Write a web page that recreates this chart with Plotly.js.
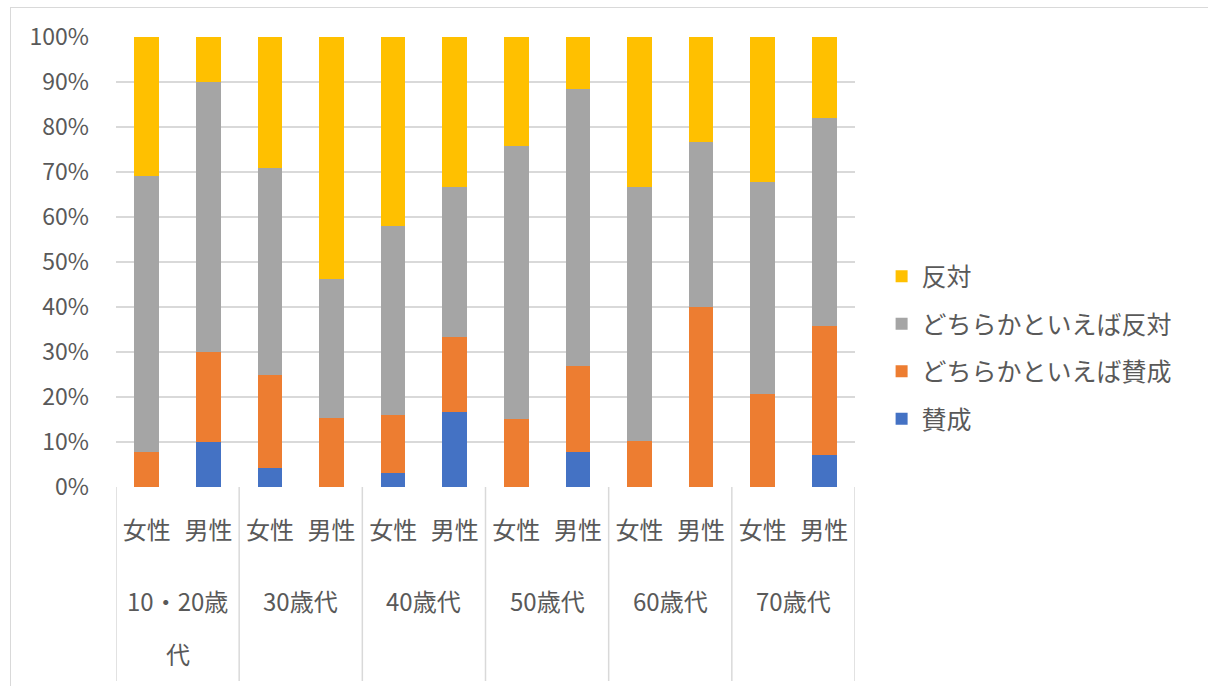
<!DOCTYPE html>
<html>
<head>
<meta charset="utf-8">
<script src="https://cdn.plot.ly/plotly-3.0.1.min.js"></script>
<style>
  html, body { margin: 0; padding: 0; background: #fff; }
  #wrap { position: relative; width: 1208px; height: 686px; overflow: hidden; }
  #chart { width: 1208px; height: 686px; }
  #frame { position: absolute; left: 10px; top: 7px; width: 1300px; height: 800px;
           border: 1px solid #d9d9d9; box-sizing: border-box; pointer-events: none; }
</style>
</head>
<body>
<div id="wrap">
  <div id="chart"></div>
  <div id="frame"></div>
</div>
<script>
// Age groups (outer category; <br> marks the wrap seen in the chart) and sex (inner category)
const ageGroups = ['10・20歳<br>代', '30歳代', '40歳代', '50歳代', '60歳代', '70歳代'];
const sexes = ['女性', '男性'];

// Series values (%), order: 10・20女, 10・20男, 30女, 30男, 40女, 40男, 50女, 50男, 60女, 60男, 70女, 70男
const sansei        = [0, 10, 4.2, 0, 3.2, 16.7, 0, 7.7, 0, 0, 0, 7.1];
const dochiraSansei = [7.7, 20, 20.8, 15.4, 12.9, 16.7, 15.2, 19.2, 10.3, 40, 20.6, 28.6];
const dochiraHantai = [61.5, 60, 45.8, 30.8, 41.9, 33.3, 60.6, 61.5, 56.4, 36.7, 47.1, 46.4];
const hantai        = [30.8, 10, 29.2, 53.8, 41.9, 33.3, 24.2, 11.5, 33.3, 23.3, 32.4, 17.9];

const seriesNames = ['賛成', 'どちらかといえば賛成', 'どちらかといえば反対', '反対'];
const seriesColors = ['#4472C4', '#ED7D31', '#A5A5A5', '#FFC000'];
const seriesData = [sansei, dochiraSansei, dochiraHantai, hantai];

// Build category positions from the arrays
const innerLabels = [];
const groupOf = [];
ageGroups.forEach((g, gi) => sexes.forEach(s => { innerLabels.push(s); groupOf.push(gi); }));
const xPos = innerLabels.map((_, i) => i);

const traces = seriesData.map((vals, i) => ({
  type: 'bar',
  name: seriesNames[i],
  x: xPos,
  y: vals,
  marker: { color: seriesColors[i] },
  legendgroup: 'g' + i,
  legendrank: seriesData.length - i,
  customdata: innerLabels.map((s, k) => ageGroups[groupOf[k]].replace('<br>', '') + ' ' + s),
  hovertemplate: '%{customdata}<br>' + seriesNames[i] + ': %{y}%<extra></extra>'
}));

const fontFam = '"Noto Sans CJK JP", "Noto Sans", sans-serif';
const txtColor = '#595959';
const lineColor = '#d9d9d9';

// Plot geometry (pixels) used to place group labels / dividers below the axis
const plotH = 450;
const groupLabelOffset = 113;   // px below axis to the centre of first line
const groupLineStep = 53;       // px between wrapped lines
const dividerDepth = 194;       // px below axis

const annotations = [];
ageGroups.forEach((g, gi) => {
  const members = xPos.filter((_, k) => groupOf[k] === gi);
  const cx = (members[0] + members[members.length - 1]) / 2;
  g.split('<br>').forEach((line, j) => {
    annotations.push({
      xref: 'x', yref: 'paper',
      x: cx, y: -groupLabelOffset / plotH,
      yshift: -groupLineStep * j,
      yanchor: 'middle', xanchor: 'center',
      text: line, showarrow: false,
      font: { size: 24, color: txtColor, family: fontFam }
    });
  });
});

const shapes = [];
const boundaries = [];
ageGroups.forEach((g, gi) => {
  const members = xPos.filter((_, k) => groupOf[k] === gi);
  boundaries.push(members[0] - 0.5);
  if (gi === ageGroups.length - 1) boundaries.push(members[members.length - 1] + 0.5);
});
boundaries.forEach(b => shapes.push({
  type: 'line', xref: 'x', yref: 'paper',
  x0: b, x1: b, y0: 0, y1: -dividerDepth / plotH,
  line: { color: lineColor, width: 1.5 }, layer: 'below'
}));

const layout = {
  width: 1208,
  height: 686,
  margin: { l: 116, r: 353, t: 37, b: 199 },
  paper_bgcolor: 'rgba(0,0,0,0)',
  plot_bgcolor: '#fff',
  barmode: 'stack',
  bargap: 0.6,
  font: { family: fontFam, color: txtColor },
  showlegend: true,
  legend: {
    x: 1.036, xanchor: 'left',
    y: 0.31, yanchor: 'middle',
    traceorder: 'grouped',
    tracegroupgap: 12,
    font: { size: 25, color: txtColor, family: fontFam },
    itemclick: false, itemdoubleclick: false
  },
  xaxis: {
    range: [-0.5, xPos.length - 0.5],
    tickmode: 'array',
    tickvals: xPos,
    ticktext: innerLabels,
    tickfont: { size: 24, color: txtColor, family: fontFam },
    ticklabelstandoff: 27,
    ticks: '',
    showline: false,
    showgrid: false,
    zeroline: false,
    fixedrange: true
  },
  yaxis: {
    range: [0, 100],
    dtick: 10,
    ticksuffix: '%',
    tickfont: { size: 23, color: txtColor, family: fontFam },
    gridcolor: lineColor,
    gridwidth: 1.5,
    zeroline: false,
    showline: false,
    ticks: '',
    ticklabelstandoff: 26,
    fixedrange: true
  },
  annotations: annotations,
  shapes: shapes
};

Plotly.newPlot('chart', traces, layout, { displayModeBar: false });
</script>
</body>
</html>
